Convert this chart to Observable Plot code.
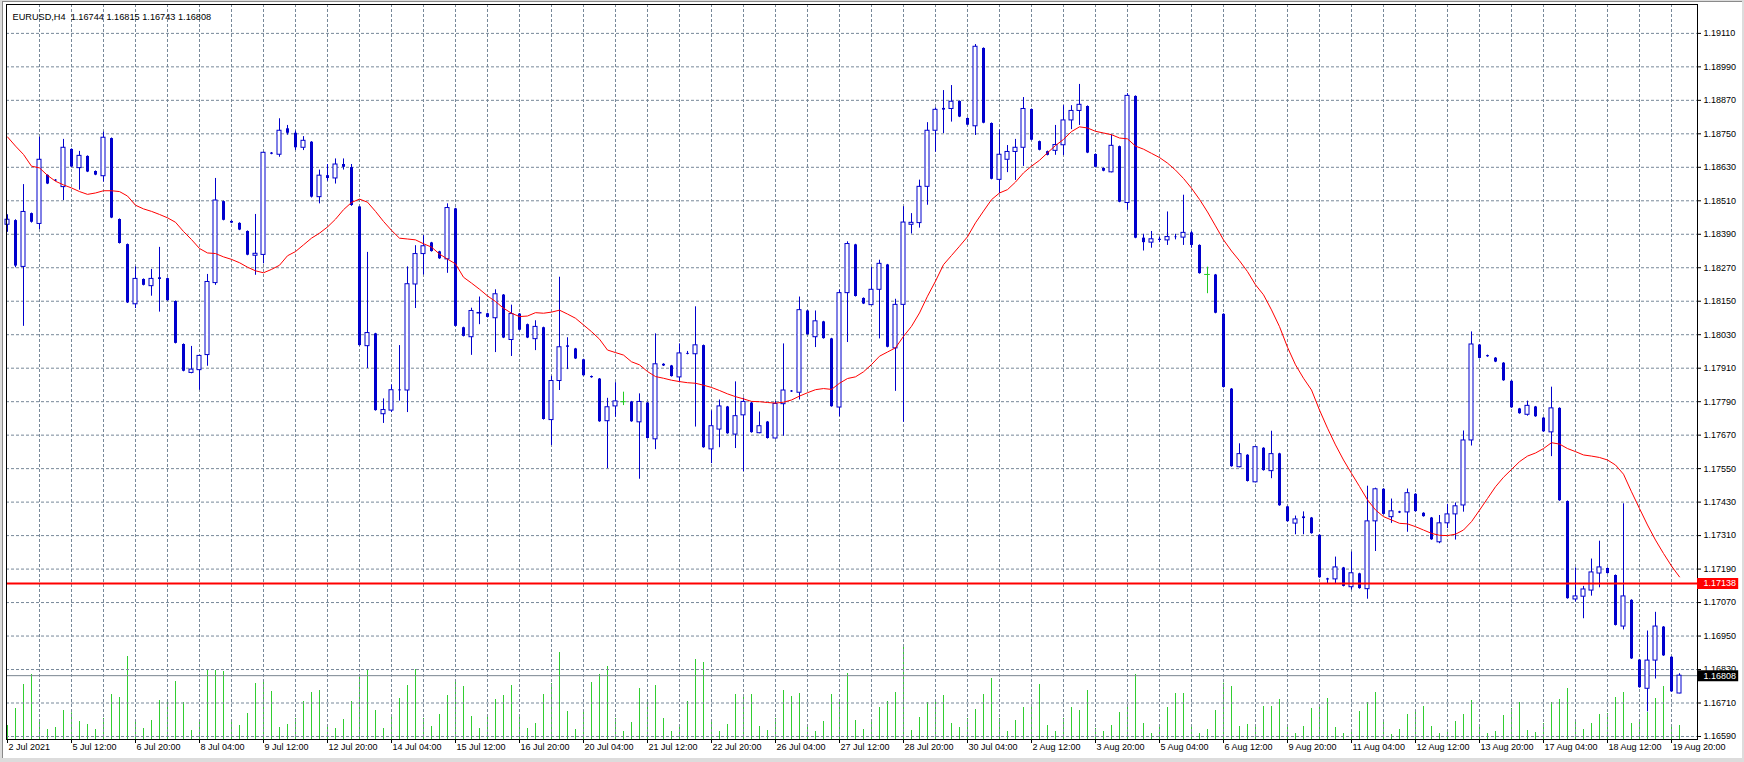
<!DOCTYPE html>
<html><head><meta charset="utf-8">
<script src="https://cdn.jsdelivr.net/npm/d3@7"></script>
<script src="https://cdn.jsdelivr.net/npm/@observablehq/plot@0.6"></script>
<style>
html,body{margin:0;padding:0;background:#fff;}
#wrap{position:relative;width:1744px;height:762px;background:#dcdcdc;overflow:hidden;}
#panel{position:absolute;left:2px;top:1px;width:1739px;height:756px;background:#fff;border-left:1px solid #8a8a8a;border-top:1px solid #8a8a8a;}
#wrap svg{position:absolute;left:0;top:0;max-width:none;}
</style></head><body>
<div id="wrap"><div id="panel"></div></div>
<script>
const symbol = "EURUSD,H4";
const open = [
1.18424,1.18439,1.18273,1.18464,1.18427,1.18601,1.18584,1.18559,1.18694,1.18627,
1.18669,1.18615,1.18598,1.18733,1.18443,1.18353,1.18139,1.18228,1.18204,1.18234,
1.18231,1.18149,1.17995,1.17893,1.17903,1.17957,1.18215,1.18507,1.18436,1.18429,
1.18400,1.18313,1.18316,1.18681,1.18675,1.18768,1.18752,1.18700,1.18720,1.18523,
1.18600,1.18590,1.18640,1.18629,1.18488,1.17989,1.18033,1.17745,1.17758,1.17832,
1.17830,1.18210,1.18319,1.18359,1.18327,1.18300,1.18481,1.18055,1.18021,1.18106,
1.18105,1.18089,1.18172,1.18011,1.18104,1.18066,1.18014,1.18055,1.17724,1.17864,
1.17990,1.17979,1.17940,1.17880,1.17871,1.17720,1.17773,1.17790,1.17789,1.17716,
1.17785,1.17655,1.17924,1.17918,1.17877,1.17963,1.17960,1.17991,1.17619,1.17690,
1.17771,1.17672,1.17741,1.17785,1.17677,1.17717,1.17658,1.17781,1.17828,1.17822,
1.18115,1.18021,1.18076,1.18015,1.17769,1.18179,1.18352,1.18160,1.18136,1.18191,
1.18280,1.17981,1.18137,1.18424,1.18430,1.18560,1.18761,1.18841,1.18839,1.18866,
1.18805,1.18777,1.19056,1.18787,1.18585,1.18657,1.18685,1.18700,1.18837,1.18722,
1.18686,1.18689,1.18709,1.18798,1.18832,1.18848,1.18676,1.18626,1.18612,1.18704,
1.18502,1.18884,1.18376,1.18360,1.18372,1.18368,1.18380,1.18378,1.18395,1.18350,
1.18246,1.18244,1.18103,1.17835,1.17555,1.17598,1.17501,1.17623,1.17541,1.17603,
1.17413,1.17353,1.17377,1.17373,1.17311,1.17155,1.17153,1.17194,1.17125,1.17173,
1.17118,1.17361,1.17476,1.17376,1.17395,1.17393,1.17458,1.17390,1.17373,1.17286,
1.17354,1.17386,1.17418,1.17651,1.17993,1.17955,1.17946,1.17928,1.17863,1.17764,
1.17743,1.17771,1.17731,1.17680,1.17766,1.17432,1.17081,1.17091,1.17113,1.17174,
1.17192,1.17167,1.16984,1.17078,1.16864,1.16761,1.16862,1.16982,1.16874,1.16744];
const high = [
1.18460,1.18442,1.18568,1.18466,1.18738,1.18603,1.18586,1.18730,1.18696,1.18687,
1.18671,1.18617,1.18756,1.18735,1.18445,1.18355,1.18273,1.18230,1.18264,1.18343,
1.18233,1.18151,1.17997,1.17988,1.17956,1.18246,1.18590,1.18509,1.18438,1.18431,
1.18402,1.18461,1.18684,1.18683,1.18804,1.18780,1.18760,1.18740,1.18722,1.18620,
1.18640,1.18660,1.18660,1.18640,1.18490,1.18325,1.18035,1.17800,1.17850,1.17991,
1.18273,1.18349,1.18385,1.18361,1.18329,1.18499,1.18483,1.18057,1.18125,1.18165,
1.18107,1.18191,1.18174,1.18136,1.18106,1.18068,1.18080,1.18057,1.17881,1.18236,
1.18019,1.17981,1.17942,1.17882,1.17873,1.17802,1.17858,1.17824,1.17791,1.17818,
1.17787,1.18033,1.17926,1.17920,1.17997,1.17970,1.18130,1.17993,1.17757,1.17796,
1.17773,1.17861,1.17803,1.17787,1.17753,1.17719,1.17791,1.17997,1.17830,1.18165,
1.18117,1.18115,1.18078,1.18017,1.18190,1.18363,1.18354,1.18162,1.18271,1.18297,
1.18282,1.18157,1.18489,1.18464,1.18584,1.18790,1.18843,1.18905,1.18923,1.18868,
1.18807,1.19070,1.19058,1.18789,1.18764,1.18708,1.18730,1.18880,1.18839,1.18724,
1.18688,1.18780,1.18851,1.18851,1.18927,1.18850,1.18678,1.18628,1.18746,1.18706,
1.18894,1.18886,1.18390,1.18400,1.18380,1.18470,1.18390,1.18530,1.18400,1.18352,
1.18272,1.18246,1.18105,1.17837,1.17639,1.17600,1.17630,1.17625,1.17684,1.17605,
1.17415,1.17380,1.17395,1.17375,1.17313,1.17157,1.17233,1.17196,1.17251,1.17175,
1.17487,1.17480,1.17478,1.17441,1.17397,1.17477,1.17460,1.17392,1.17375,1.17382,
1.17422,1.17427,1.17685,1.18040,1.17995,1.17957,1.17948,1.17930,1.17865,1.17766,
1.17792,1.17773,1.17733,1.17842,1.17768,1.17434,1.17194,1.17128,1.17226,1.17290,
1.17194,1.17169,1.17424,1.17080,1.16866,1.16968,1.17035,1.16984,1.16876,1.16815];
const low = [
1.18397,1.18270,1.18060,1.18430,1.18407,1.18568,1.18579,1.18511,1.18629,1.18548,
1.18611,1.18600,1.18577,1.18446,1.18355,1.18142,1.18124,1.18205,1.18168,1.18111,
1.18150,1.17997,1.17897,1.17890,1.17831,1.17917,1.18207,1.18438,1.18428,1.18403,
1.18313,1.18243,1.18284,1.18675,1.18666,1.18745,1.18690,1.18690,1.18520,1.18499,
1.18580,1.18570,1.18620,1.18490,1.17989,1.17909,1.17756,1.17712,1.17751,1.17792,
1.17751,1.18124,1.18244,1.18326,1.18300,1.18250,1.18058,1.18022,1.17956,1.18066,
1.18090,1.17966,1.18016,1.17952,1.18044,1.18016,1.17973,1.17724,1.17633,1.17830,
1.17905,1.17941,1.17881,1.17874,1.17716,1.17550,1.17734,1.17776,1.17716,1.17512,
1.17656,1.17618,1.17916,1.17878,1.17858,1.17958,1.17699,1.17623,1.17568,1.17625,
1.17673,1.17622,1.17539,1.17677,1.17675,1.17656,1.17656,1.17666,1.17823,1.17796,
1.18028,1.17984,1.18014,1.17770,1.17736,1.18002,1.18165,1.18138,1.18134,1.18015,
1.17983,1.17827,1.17716,1.18391,1.18412,1.18494,1.18684,1.18751,1.18792,1.18808,
1.18779,1.18744,1.18786,1.18585,1.18535,1.18611,1.18583,1.18633,1.18725,1.18689,
1.18671,1.18673,1.18672,1.18765,1.18780,1.18679,1.18628,1.18614,1.18610,1.18503,
1.18476,1.18374,1.18330,1.18340,1.18360,1.18350,1.18370,1.18350,1.18340,1.18247,
1.18177,1.18105,1.17839,1.17555,1.17553,1.17502,1.17499,1.17541,1.17514,1.17415,
1.17358,1.17313,1.17313,1.17315,1.17157,1.17137,1.17135,1.17126,1.17115,1.17118,
1.17082,1.17253,1.17384,1.17354,1.17389,1.17322,1.17394,1.17376,1.17293,1.17281,
1.17335,1.17294,1.17394,1.17631,1.17943,1.17949,1.17930,1.17863,1.17766,1.17745,
1.17738,1.17734,1.17680,1.17593,1.17433,1.17082,1.17072,1.17012,1.17093,1.17123,
1.17172,1.16986,1.16972,1.16866,1.16763,1.16678,1.16796,1.16877,1.16748,1.16743];
const close = [
1.18442,1.18276,1.18470,1.18433,1.18657,1.18570,1.18581,1.18700,1.18631,1.18671,
1.18613,1.18602,1.18736,1.18448,1.18357,1.18144,1.18230,1.18207,1.18230,1.18228,
1.18152,1.17999,1.17899,1.17905,1.17954,1.18219,1.18511,1.18440,1.18430,1.18405,
1.18315,1.18320,1.18682,1.18677,1.18761,1.18752,1.18700,1.18725,1.18523,1.18600,
1.18590,1.18640,1.18630,1.18493,1.17991,1.18036,1.17758,1.17760,1.17831,1.17829,
1.18211,1.18319,1.18347,1.18328,1.18302,1.18484,1.18060,1.18024,1.18115,1.18108,
1.18092,1.18175,1.18018,1.18104,1.18046,1.18018,1.18058,1.17726,1.17864,1.17985,
1.17985,1.17943,1.17883,1.17876,1.17718,1.17770,1.17791,1.17790,1.17718,1.17789,
1.17658,1.17924,1.17918,1.17880,1.17963,1.17960,1.17992,1.17625,1.17702,1.17773,
1.17675,1.17738,1.17789,1.17679,1.17702,1.17658,1.17782,1.17830,1.17825,1.18118,
1.18030,1.18078,1.18016,1.17772,1.18179,1.18355,1.18167,1.18140,1.18191,1.18284,
1.17985,1.18137,1.18432,1.18431,1.18560,1.18761,1.18836,1.18835,1.18865,1.18810,
1.18781,1.19062,1.18788,1.18587,1.18675,1.18685,1.18700,1.18839,1.18727,1.18691,
1.18673,1.18710,1.18798,1.18832,1.18854,1.18681,1.18630,1.18616,1.18707,1.18505,
1.18886,1.18376,1.18360,1.18372,1.18368,1.18380,1.18378,1.18395,1.18350,1.18249,
1.18246,1.18107,1.17841,1.17557,1.17602,1.17504,1.17627,1.17543,1.17602,1.17417,
1.17360,1.17368,1.17371,1.17317,1.17159,1.17151,1.17196,1.17128,1.17175,1.17120,
1.17361,1.17476,1.17386,1.17397,1.17391,1.17462,1.17396,1.17378,1.17295,1.17354,
1.17386,1.17415,1.17651,1.17995,1.17945,1.17951,1.17932,1.17865,1.17768,1.17747,
1.17775,1.17736,1.17682,1.17766,1.17435,1.17084,1.17092,1.17117,1.17178,1.17196,
1.17174,1.16988,1.17092,1.16868,1.16765,1.16862,1.16984,1.16879,1.16750,1.16808];
const volume = [
2100,4650,8250,9750,2700,1500,1800,4350,4000,2700,
2250,1500,3150,6750,6300,12450,2550,1650,2850,5850,
5850,8700,5550,1350,3000,10350,10350,10200,2850,2100,
3900,8400,8700,7200,1800,2250,3150,5700,7050,7350,
2250,1650,3000,5700,9450,10500,4350,1650,3450,6150,
8100,10500,3150,1950,3750,6600,8550,7950,3450,1650,
3300,6000,6600,8100,3600,1650,2400,6750,8400,13050,
4200,1500,4050,8550,9750,10950,3150,1200,2550,7650,
6000,8100,3150,1200,2250,5700,12000,11550,2700,1200,
2250,6750,6600,6750,1950,1350,3150,7350,6450,6900,
2250,1200,2700,6750,6000,9900,2850,1500,2550,4800,
5700,7050,13850,1350,3300,5550,5850,6600,2400,1800,
3150,4500,6750,9150,3150,1200,2850,4800,4950,8250,
2100,1200,3150,4800,4350,7350,1650,1200,2100,4050,
5100,9750,2400,900,2100,4800,6900,6900,2250,900,
1500,4350,8450,7950,1950,2250,2250,4950,4950,6000,
2100,900,1950,4650,4950,6150,1800,900,1350,4200,
5550,7050,3000,750,1500,3750,4350,4950,1950,900,
1350,2700,3750,5850,2100,900,1200,3600,4650,5550,
1350,1050,2400,5550,6000,7650,2700,1500,2400,3750,
3900,6300,7050,2400,2850,4050,6150,7950,1800,2100];
const ma = [
1.18739,1.18706,1.18676,1.18634,1.18628,1.18601,1.18580,1.18567,1.18556,1.18543,
1.18533,1.18538,1.18546,1.18546,1.18543,1.18527,1.18494,1.18481,1.18472,1.18461,
1.18449,1.18433,1.18400,1.18371,1.18339,1.18323,1.18321,1.18309,1.18300,1.18288,
1.18272,1.18259,1.18252,1.18264,1.18279,1.18313,1.18328,1.18352,1.18376,1.18394,
1.18416,1.18444,1.18478,1.18504,1.18516,1.18505,1.18472,1.18436,1.18404,1.18376,
1.18373,1.18370,1.18356,1.18344,1.18319,1.18301,1.18284,1.18236,1.18215,1.18193,
1.18169,1.18149,1.18125,1.18107,1.18095,1.18097,1.18109,1.18107,1.18111,1.18118,
1.18104,1.18089,1.18065,1.18041,1.18014,1.17975,1.17966,1.17957,1.17933,1.17922,
1.17898,1.17880,1.17874,1.17867,1.17862,1.17858,1.17856,1.17849,1.17841,1.17830,
1.17818,1.17808,1.17800,1.17791,1.17790,1.17787,1.17785,1.17788,1.17796,1.17810,
1.17822,1.17833,1.17837,1.17834,1.17856,1.17873,1.17879,1.17897,1.17923,1.17953,
1.17968,1.17983,1.18024,1.18060,1.18108,1.18168,1.18222,1.18281,1.18314,1.18347,
1.18381,1.18431,1.18473,1.18514,1.18538,1.18550,1.18577,1.18610,1.18634,1.18655,
1.18682,1.18708,1.18730,1.18758,1.18775,1.18771,1.18759,1.18753,1.18747,1.18735,
1.18732,1.18706,1.18695,1.18680,1.18665,1.18645,1.18620,1.18590,1.18555,1.18515,
1.18470,1.18420,1.18370,1.18330,1.18295,1.18256,1.18209,1.18173,1.18119,1.18059,
1.17985,1.17922,1.17874,1.17832,1.17760,1.17695,1.17635,1.17581,1.17533,1.17486,
1.17438,1.17402,1.17378,1.17366,1.17354,1.17352,1.17342,1.17330,1.17318,1.17311,
1.17310,1.17315,1.17330,1.17360,1.17401,1.17443,1.17485,1.17519,1.17547,1.17575,
1.17595,1.17606,1.17622,1.17643,1.17638,1.17622,1.17611,1.17599,1.17595,1.17590,
1.17581,1.17563,1.17530,1.17467,1.17407,1.17348,1.17294,1.17246,1.17201,1.17162];
const dateLabels = ["2 Jul 2021","5 Jul 12:00","6 Jul 20:00","8 Jul 04:00","9 Jul 12:00","12 Jul 20:00","14 Jul 04:00","15 Jul 12:00","16 Jul 20:00","20 Jul 04:00","21 Jul 12:00","22 Jul 20:00","26 Jul 04:00","27 Jul 12:00","28 Jul 20:00","30 Jul 04:00","2 Aug 12:00","3 Aug 20:00","5 Aug 04:00","6 Aug 12:00","9 Aug 20:00","11 Aug 04:00","12 Aug 12:00","13 Aug 20:00","17 Aug 04:00","18 Aug 12:00","19 Aug 20:00"];
const priceTicks = [1.16590,1.16710,1.16830,1.16950,1.17070,1.17190,1.17310,1.17430,1.17550,1.17670,1.17790,1.17910,1.18030,1.18150,1.18270,1.18390,1.18510,1.18630,1.18750,1.18870,1.18990,1.19110];
const levelPrice = 1.17138;
const bidPrice = 1.16808;

// layout
const W = 1744, H = 762, mL = 6, mR = 47, mT = 4, mB = 23;
const barsPerLabel = 8, barsPerGrid = 4;
const xDomain = [-0.125, 211.25];
const yDomain = [1.165792, 1.192135];
const BLUE = "#0000cd", GREEN = "#22cc22", VOL = "#32cd32", GRID = "#778899";

const bars = open.map((o, i) => ({i, open: o, high: high[i], low: low[i], close: close[i]}));
const bulls = bars.filter(d => d.close > d.open);
const bears = bars.filter(d => d.close < d.open);
const dojis = bars.filter(d => d.close === d.open);
const labelIdx = dateLabels.map((_, k) => k * barsPerLabel);
const gridIdx = d3.range(barsPerGrid, bars.length, barsPerGrid);
const maPts = ma.map((v, i) => ({i, v}));
const header = `${symbol}  ${open[open.length-1].toFixed(5)} ${high[high.length-1].toFixed(5)} ${low[low.length-1].toFixed(5)} ${close[close.length-1].toFixed(5)}`;
const font = {fontFamily: "'Liberation Sans', Arial, sans-serif", fontSize: "9px", background: "transparent", color: "black", overflow: "visible"};

const volPlot = Plot.plot({
  width: W, height: H, marginLeft: mL, marginRight: mR, marginTop: mT, marginBottom: mB,
  style: font,
  x: {domain: xDomain, axis: null},
  y: {domain: [0, 735 * 150], axis: null},
  marks: [
    Plot.ruleX(bars, {x: "i", y1: 0, y2: d => volume[d.i], stroke: VOL, strokeWidth: 1})
  ]
});

const tagW = 5.15;
const mainPlot = Plot.plot({
  width: W, height: H, marginLeft: mL, marginRight: mR, marginTop: mT, marginBottom: mB,
  style: font,
  x: {domain: xDomain, ticks: labelIdx, tickFormat: () => "", tickSize: 4, label: null},
  y: {domain: yDomain, axis: "right", ticks: priceTicks, tickFormat: d3.format(".5f"), tickSize: 3, tickPadding: 3, label: null},
  marks: [
    Plot.ruleY(priceTicks, {stroke: GRID, strokeDasharray: "3,2", strokeWidth: 1}),
    Plot.ruleX(gridIdx, {stroke: GRID, strokeDasharray: "3,2", strokeWidth: 1}),
    Plot.ruleY([bidPrice], {stroke: "#7a8590", strokeWidth: 1}),
    Plot.ruleX(bulls.concat(bears), {x: "i", y1: "low", y2: "high", stroke: BLUE, strokeWidth: 1}),
    Plot.ruleX(bears, {x: "i", y1: "open", y2: "close", stroke: BLUE, strokeWidth: 3}),
    Plot.rect(bulls, {x1: d => d.i - 0.25, x2: d => d.i + 0.25, y1: "open", y2: "close", fill: "white", stroke: BLUE, strokeWidth: 1}),
    Plot.ruleX(dojis, {x: "i", y1: "low", y2: "high", stroke: GREEN, strokeWidth: 1}),
    Plot.ruleY(dojis, {y: "close", x1: d => d.i - 0.35, x2: d => d.i + 0.35, stroke: GREEN, strokeWidth: 1}),
    Plot.line(maPts, {x: "i", y: "v", stroke: "#ff0000", strokeWidth: 1}),
    Plot.ruleY([levelPrice], {stroke: "#ff0000", strokeWidth: 2}),
    Plot.frame({stroke: "black"}),
    Plot.text(labelIdx, {x: d => d, text: (d, k) => dateLabels[k], frameAnchor: "bottom", dy: 10, dx: 1, textAnchor: "start", fill: "black"}),
    Plot.ruleY([levelPrice], {x1: xDomain[1], x2: xDomain[1] + tagW, stroke: "#ff0000", strokeWidth: 11}),
    Plot.text([levelPrice], {x: xDomain[1], y: d => d, text: d => d.toFixed(5), dx: 6, textAnchor: "start", fill: "white"}),
    Plot.ruleY([bidPrice], {x1: xDomain[1], x2: xDomain[1] + tagW, stroke: "black", strokeWidth: 11}),
    Plot.text([bidPrice], {x: xDomain[1], y: d => d, text: d => d.toFixed(5), dx: 6, textAnchor: "start", fill: "white"}),
    Plot.text([header], {text: d => d, frameAnchor: "top-left", dx: 6, dy: 9, textAnchor: "start", fill: "black", fontSize: 9.2})
  ]
});

const wrap = document.getElementById("wrap");
wrap.appendChild(volPlot);
wrap.appendChild(mainPlot);
</script>
</body></html>
